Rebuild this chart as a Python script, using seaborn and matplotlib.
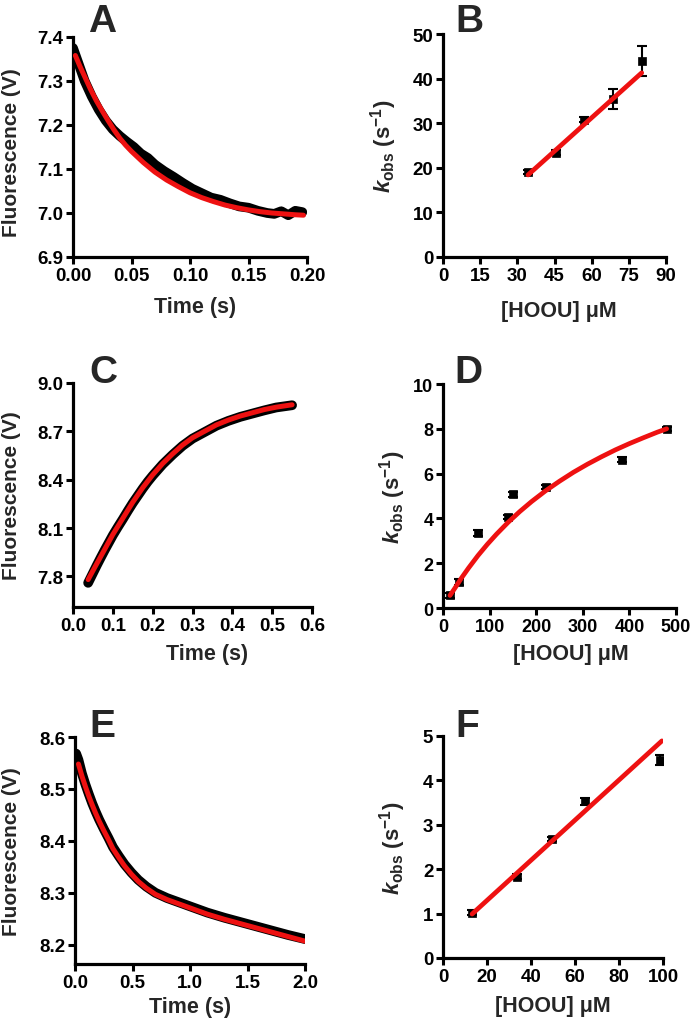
import numpy as np
import pandas as pd
import matplotlib
matplotlib.use("Agg")
import matplotlib.pyplot as plt
import seaborn as sns

# ---- data ----
# A: fluorescence trace (black) and fit (red)
a_time = [0.000, 0.004, 0.010, 0.016, 0.022, 0.028, 0.034, 0.040, 0.046, 0.052,
          0.058, 0.064, 0.070, 0.078, 0.086, 0.094, 0.102, 0.110, 0.118, 0.126,
          0.134, 0.142, 0.150, 0.158, 0.166, 0.172, 0.178, 0.184, 0.190, 0.196]
a_trace = [7.375, 7.345, 7.300, 7.265, 7.235, 7.210, 7.190, 7.175, 7.162, 7.150,
           7.135, 7.125, 7.110, 7.095, 7.082, 7.068, 7.055, 7.045, 7.035, 7.030,
           7.022, 7.015, 7.012, 7.005, 7.000, 6.998, 7.004, 6.995, 7.005, 7.002]
a_fit_t = [0.002, 0.006, 0.01, 0.015, 0.02, 0.025, 0.03, 0.035, 0.04, 0.045, 0.05,
           0.06, 0.07, 0.08, 0.09, 0.10, 0.11, 0.12, 0.13, 0.14, 0.15, 0.16, 0.17,
           0.18, 0.19, 0.197]
a_fit = [7.358, 7.333, 7.31, 7.281, 7.255, 7.232, 7.21, 7.189, 7.17, 7.154, 7.14,
         7.115, 7.093, 7.075, 7.06, 7.046, 7.035, 7.026, 7.018, 7.012, 7.007, 7.003,
         7.000, 6.998, 6.996, 6.995]

# B: kobs vs [HOOU]
b_conc = [34.3, 45.7, 57.1, 68.5, 80.2]
b_kobs = [19.0, 23.4, 30.8, 35.4, 43.9]
b_err = [0.5, 0.6, 0.5, 2.3, 3.3]
b_fit_x = [34.3, 80.2]
b_fit_y = [18.4, 41.3]

# C: rising trace and fit
c_time = [0.038, 0.05, 0.06, 0.07, 0.08, 0.09, 0.10, 0.1125, 0.125, 0.1375, 0.15,
          0.1625, 0.175, 0.1875, 0.20, 0.225, 0.25, 0.275, 0.30, 0.33, 0.36, 0.39,
          0.42, 0.45, 0.48, 0.51, 0.55]
c_trace = [7.76, 7.82, 7.87, 7.918, 7.965, 8.01, 8.055, 8.106, 8.155, 8.206, 8.255,
           8.30, 8.345, 8.387, 8.425, 8.495, 8.555, 8.61, 8.655, 8.695, 8.735, 8.765,
           8.79, 8.81, 8.83, 8.848, 8.862]
c_fit = [7.78, 7.835, 7.88, 7.925, 7.97, 8.015, 8.06, 8.11, 8.16, 8.21, 8.26,
         8.305, 8.35, 8.39, 8.43, 8.50, 8.56, 8.615, 8.66, 8.70, 8.74, 8.77,
         8.795, 8.815, 8.835, 8.85, 8.865]

# D: kobs vs [HOOU] (hyperbolic)
d_conc = [14.5, 34, 74.6, 140, 150, 222, 384, 480]
d_kobs = [0.57, 1.16, 3.34, 4.06, 5.07, 5.41, 6.62, 8.0]
d_err = [0.12, 0.12, 0.12, 0.10, 0.12, 0.10, 0.12, 0.08]
d_fit_x = [15, 25, 40, 55, 75, 95, 115, 140, 165, 190, 220, 250, 280, 310, 340,
           370, 400, 430, 460, 480]
d_fit_y = [0.56, 0.87, 1.35, 1.79, 2.34, 2.84, 3.30, 3.83, 4.31, 4.75, 5.23, 5.66,
           6.06, 6.42, 6.75, 7.06, 7.34, 7.60, 7.85, 8.00]

# E: decaying trace and fit
e_time = [0.01, 0.03, 0.06, 0.09, 0.12, 0.15, 0.18, 0.21, 0.25, 0.29, 0.33, 0.38,
          0.43, 0.49, 0.55, 0.62, 0.70, 0.80, 0.90, 1.0, 1.15, 1.3, 1.5, 1.7, 1.85, 2.0]
e_trace = [8.568, 8.556, 8.53, 8.509, 8.49, 8.472, 8.456, 8.441, 8.423, 8.406, 8.388,
           8.371, 8.355, 8.339, 8.325, 8.312, 8.30, 8.29, 8.282, 8.274, 8.262, 8.252,
           8.24, 8.228, 8.219, 8.211]
e_fit_t = [0.03, 0.06, 0.09, 0.12, 0.15, 0.18, 0.21, 0.25, 0.29, 0.33, 0.38, 0.43,
           0.49, 0.55, 0.62, 0.70, 0.80, 0.90, 1.0, 1.15, 1.3, 1.5, 1.7, 1.85, 2.0]
e_fit = [8.548, 8.525, 8.505, 8.486, 8.469, 8.453, 8.438, 8.42, 8.403, 8.385, 8.368,
         8.352, 8.336, 8.322, 8.309, 8.297, 8.287, 8.279, 8.271, 8.259, 8.249, 8.237,
         8.225, 8.216, 8.207]

# F: kobs vs [HOOU] (linear)
f_conc = [13.2, 33.6, 49.5, 64.4, 98.5]
f_kobs = [1.02, 1.83, 2.68, 3.53, 4.46]
f_err = [0.05, 0.06, 0.05, 0.08, 0.12]
f_fit_x = [13.2, 99.5]
f_fit_y = [0.99, 4.89]

# ---- style ----
sns.set_style("ticks")
plt.rcParams["font.family"] = ["Liberation Sans", "DejaVu Sans"]
plt.rcParams["font.weight"] = "bold"
plt.rcParams["axes.labelweight"] = "bold"
plt.rcParams["mathtext.fontset"] = "custom"
plt.rcParams["mathtext.rm"] = "Liberation Sans:bold"
plt.rcParams["mathtext.it"] = "Liberation Sans:italic:bold"
plt.rcParams["mathtext.bf"] = "Liberation Sans:bold"

W, H = 693, 1020
fig = plt.figure(figsize=(W / 100, H / 100), dpi=100)


def add_axes_px(l, t, r, b):
    return fig.add_axes([l / W, 1 - b / H, (r - l) / W, (b - t) / H])


def style_axes(ax, tick_size=13.5):
    for s in ["top", "right"]:
        ax.spines[s].set_visible(False)
    for s in ["left", "bottom"]:
        ax.spines[s].set_linewidth(2.3)
        ax.spines[s].set_color("black")
    ax.tick_params(direction="out", length=5, width=2.2, labelsize=tick_size,
                   colors="black", pad=2)
    for lab in ax.get_xticklabels() + ax.get_yticklabels():
        lab.set_fontweight("bold")


fluor_label = "Fluorescence (V)"
kobs_label = r"$\mathit{k}_{\mathrm{obs}}$ (s$^{\mathrm{-1}}$)"
conc_label = "[HOOU] \u03bcM"


def trace_panel(ax, t, y, ft, fy):
    sns.lineplot(x=t, y=y, ax=ax, color="black", lw=7, zorder=2)
    sns.lineplot(x=ft, y=fy, ax=ax, color="#ee1111", lw=3.6, zorder=3)
    for ln in ax.lines:
        ln.set_solid_joinstyle("round")
        ln.set_solid_capstyle("round")
    ax.set_xlabel("Time (s)", fontsize=15.5)
    ax.set_ylabel(fluor_label, fontsize=15)


def kobs_panel(ax, x, y, err, fx, fy):
    ax.errorbar(x, y, yerr=err, fmt="none", ecolor="black", elinewidth=1.5,
                capsize=3.5, capthick=1.5, zorder=2)
    sns.scatterplot(x=x, y=y, ax=ax, marker="s", s=38, color="black",
                    edgecolor="black", zorder=2)
    sns.lineplot(x=fx, y=fy, ax=ax, color="#ee1111", lw=3.4, zorder=3)
    ax.lines[-1].set_solid_joinstyle("round")
    ax.set_xlabel(conc_label, fontsize=15.5)
    ax.set_ylabel(kobs_label, fontsize=16)


# A
axA = add_axes_px(73, 38, 307, 258)
trace_panel(axA, a_time, a_trace, a_fit_t, a_fit)
axA.set_xlim(0, 0.2)
axA.set_ylim(6.9, 7.4)
axA.set_xticks([0, 0.05, 0.10, 0.15, 0.20])
axA.set_xticklabels(["0.00", "0.05", "0.10", "0.15", "0.20"])
axA.set_yticks([6.9, 7.0, 7.1, 7.2, 7.3, 7.4])
axA.set_yticklabels(["6.9", "7.0", "7.1", "7.2", "7.3", "7.4"])
style_axes(axA)
axA.yaxis.set_label_coords(-0.222, 0.48)
axA.xaxis.set_label_coords(0.52, -0.175)

# B
axB = add_axes_px(443, 35, 666, 258)
kobs_panel(axB, b_conc, b_kobs, b_err, b_fit_x, b_fit_y)
axB.set_xlim(0, 90)
axB.set_ylim(0, 50)
axB.set_xticks(range(0, 91, 15))
axB.set_yticks(range(0, 51, 10))
style_axes(axB)
axB.yaxis.set_label_coords(-0.197, 0.5)
axB.xaxis.set_label_coords(0.52, -0.195)

# C
axC = add_axes_px(73, 384, 312, 608)
trace_panel(axC, c_time, c_trace, c_time, c_fit)
axC.set_xlim(0, 0.6)
axC.set_ylim(7.61, 9.0)
axC.set_xticks([0, 0.1, 0.2, 0.3, 0.4, 0.5, 0.6])
axC.set_xticklabels(["0.0", "0.1", "0.2", "0.3", "0.4", "0.5", "0.6"])
axC.set_yticks([7.8, 8.1, 8.4, 8.7, 9.0])
axC.set_yticklabels(["7.8", "8.1", "8.4", "8.7", "9.0"])
style_axes(axC)
axC.yaxis.set_label_coords(-0.218, 0.5)
axC.xaxis.set_label_coords(0.56, -0.16)

# D
axD = add_axes_px(443, 385, 676, 609)
kobs_panel(axD, d_conc, d_kobs, d_err, d_fit_x, d_fit_y)
axD.set_xlim(0, 500)
axD.set_ylim(0, 10)
axD.set_xticks(range(0, 501, 100))
axD.set_yticks(range(0, 11, 2))
style_axes(axD, tick_size=13)
axD.yaxis.set_label_coords(-0.15, 0.5)
axD.xaxis.set_label_coords(0.55, -0.155)

# E
axE = add_axes_px(75, 738, 305, 965)
trace_panel(axE, e_time, e_trace, e_fit_t, e_fit)
axE.set_xlim(0, 2.0)
axE.set_ylim(8.163, 8.6)
axE.set_xticks([0, 0.5, 1.0, 1.5, 2.0])
axE.set_xticklabels(["0.0", "0.5", "1.0", "1.5", "2.0"])
axE.set_yticks([8.2, 8.3, 8.4, 8.5, 8.6])
axE.set_yticklabels(["8.2", "8.3", "8.4", "8.5", "8.6"])
style_axes(axE)
axE.yaxis.set_label_coords(-0.235, 0.5)
axE.xaxis.set_label_coords(0.5, -0.14)

# F
axF = add_axes_px(443, 737, 663, 959)
kobs_panel(axF, f_conc, f_kobs, f_err, f_fit_x, f_fit_y)
axF.set_xlim(0, 100)
axF.set_ylim(0, 5)
axF.set_xticks(range(0, 101, 20))
axF.set_yticks(range(0, 6))
style_axes(axF)
axF.yaxis.set_label_coords(-0.16, 0.5)
axF.xaxis.set_label_coords(0.5, -0.165)

# panel letters
for letter, (x, y) in {"A": (88, 32), "B": (455, 32), "C": (89, 383), "D": (454, 383),
                       "E": (89, 737), "F": (455, 737)}.items():
    fig.text(x / W, 1 - y / H, letter, fontsize=28, fontweight="bold",
             ha="left", va="baseline")

fig.savefig("out.png", dpi=100)
